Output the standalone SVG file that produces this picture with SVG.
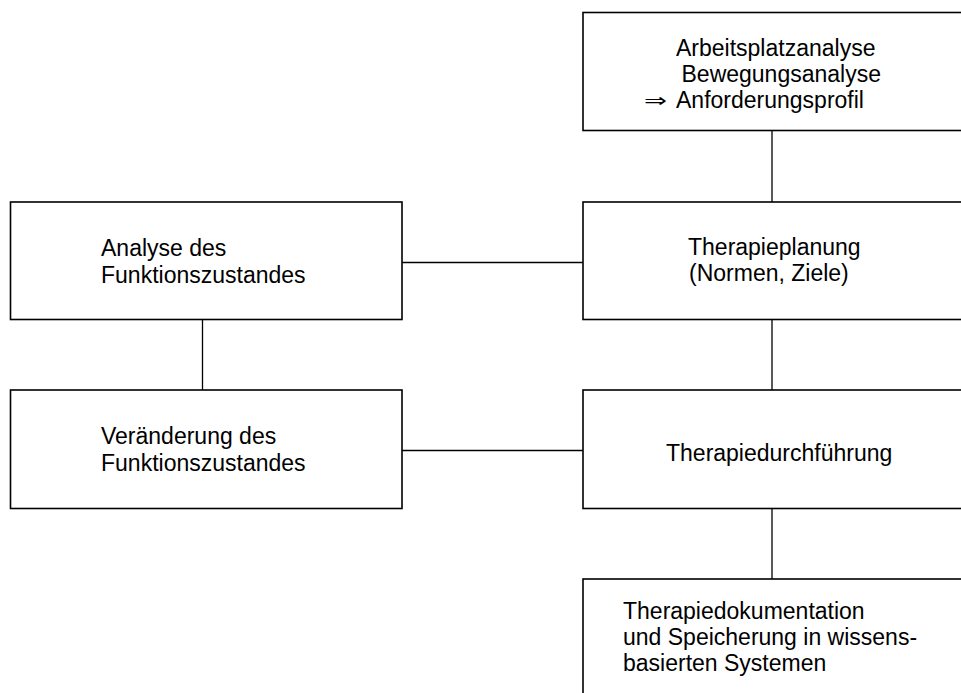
<svg xmlns="http://www.w3.org/2000/svg" width="961" height="693" viewBox="0 0 961 693">
  <style>
    .box { fill: #ffffff; stroke: #000000; stroke-width: 1.6; }
    .link { stroke: #000000; stroke-width: 1.3; fill: none; }
    .label { font-family: "Liberation Sans", Arial, sans-serif; font-size: 23px; fill: #000000; }
    .sym { font-family: "DejaVu Sans", sans-serif; font-size: 19px; fill: #000000; }
  </style>
  <rect width="961" height="693" fill="#ffffff"/>

  <!-- connectors -->
  <g id="connectors">
    <line class="link" x1="772" y1="131" x2="772" y2="202"/>
    <line class="link" x1="402" y1="262.5" x2="583" y2="262.5"/>
    <line class="link" x1="202.5" y1="320" x2="202.5" y2="390"/>
    <line class="link" x1="772" y1="320" x2="772" y2="390"/>
    <line class="link" x1="402" y1="450.5" x2="583" y2="450.5"/>
    <line class="link" x1="772" y1="509" x2="772" y2="579"/>
  </g>

  <g id="node-anforderung">
    <rect class="box" x="583" y="12.5" width="400" height="118"/>
    <text class="label" x="676" y="56">Arbeitsplatzanalyse</text>
    <text class="label" x="681.5" y="82">Bewegungsanalyse</text>
    <text class="sym" x="644" y="107" textLength="23" lengthAdjust="spacingAndGlyphs">⇒</text>
    <text class="label" x="676" y="108">Anforderungsprofil</text>
  </g>

  <g id="node-analyse">
    <rect class="box" x="10.5" y="202" width="391.5" height="117.5"/>
    <text class="label" x="101" y="256">Analyse des</text>
    <text class="label" x="101" y="283">Funktionszustandes</text>
  </g>

  <g id="node-planung">
    <rect class="box" x="583" y="202" width="400" height="117.5"/>
    <text class="label" x="688" y="255">Therapieplanung</text>
    <text class="label" x="689" y="281">(Normen, Ziele)</text>
  </g>

  <g id="node-veraenderung">
    <rect class="box" x="10.5" y="390" width="391.5" height="118.5"/>
    <text class="label" x="101" y="444">Veränderung des</text>
    <text class="label" x="101" y="471">Funktionszustandes</text>
  </g>

  <g id="node-durchfuehrung">
    <rect class="box" x="583" y="390" width="400" height="118.5"/>
    <text class="label" x="666" y="461">Therapiedurchführung</text>
  </g>

  <g id="node-dokumentation">
    <rect class="box" x="583" y="579" width="400" height="140"/>
    <text class="label" x="623" y="619">Therapiedokumentation</text>
    <text class="label" x="623" y="645">und Speicherung in wissens-</text>
    <text class="label" x="623" y="671">basierten Systemen</text>
  </g>
</svg>
